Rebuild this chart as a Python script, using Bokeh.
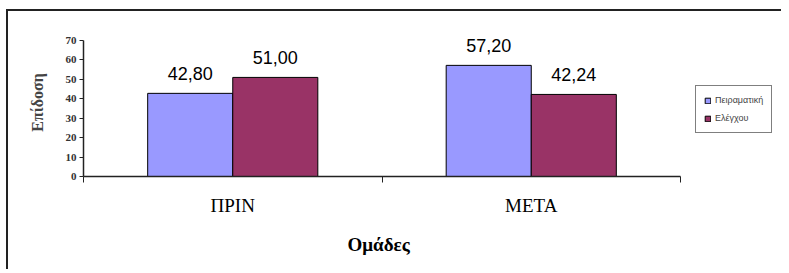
from bokeh.plotting import figure
from bokeh.models import ColumnDataSource, FixedTicker, Range1d, Legend, LegendItem, Title
from bokeh.core.properties import value
from bokeh.embed import file_html
from bokeh.resources import INLINE

categories = ["ΠΡΙΝ", "ΜΕΤΑ"]
series_names = ["Πειραματική", "Ελέγχου"]
experimental = [42.80, 57.20]
control = [51.00, 42.24]
y_ticks = [0, 10, 20, 30, 40, 50, 60, 70]

BLUE = "#9999FF"
MAROON = "#993366"
SERIF = "Liberation Serif"
bar_w = 0.285

# frame extends right of the category axis to host the legend,
# and above the value axis so the value labels are not clipped
AXIS_PX = 597
FRAME_PX = 698
YAXIS_PX = 136
YFRAME_PX = 148
n = len(categories)
y_max = y_ticks[-1]

idx = list(range(n))
src_a = ColumnDataSource(dict(x=[i + 0.5 - bar_w / 2 for i in idx], top=experimental,
                              lab=[f"{v:.2f}".replace(".", ",") for v in experimental]))
src_b = ColumnDataSource(dict(x=[i + 0.5 + bar_w / 2 for i in idx], top=control,
                              lab=[f"{v:.2f}".replace(".", ",") for v in control]))

p = figure(width=775, height=260, output_backend="svg", toolbar_location=None,
           x_range=Range1d(0, n * FRAME_PX / AXIS_PX),
           y_range=Range1d(0, y_max * YFRAME_PX / YAXIS_PX),
           min_border_left=75, min_border_right=2, min_border_top=17, min_border_bottom=95)
p.styles = {"border-left": "2px solid #222", "border-top": "2px solid #222",
            "margin-left": "6px", "margin-top": "9px"}
p.outline_line_color = None
p.grid.visible = False
p.background_fill_color = "white"

ra = p.vbar(x="x", top="top", width=bar_w, source=src_a, fill_color=BLUE, line_color="black", line_width=1)
rb = p.vbar(x="x", top="top", width=bar_w, source=src_b, fill_color=MAROON, line_color="black", line_width=1)

for s in (src_a, src_b):
    p.text(x="x", y="top", text="lab", source=s, text_align="center", text_baseline="bottom",
           y_offset=-13, text_font=value("Liberation Sans"), text_font_size="18px", text_color="black")

# x axis
xa = p.xaxis[0]
xa.bounds = (0, n)
xa.ticker = FixedTicker(ticks=[i + 0.5 for i in idx], minor_ticks=[0] + [i + 1 for i in idx])
xa.major_label_overrides = {i + 0.5: c for i, c in zip(idx, categories)}
xa.major_tick_line_color = None
xa.major_tick_out = 0
xa.minor_tick_out = 6
xa.minor_tick_in = 0
xa.minor_tick_line_color = "#222"
xa.axis_line_color = "#222"
xa.axis_line_width = 1.5
xa.major_label_standoff = 12
xa.major_label_text_font = SERIF
xa.major_label_text_font_style = "normal"
xa.major_label_text_font_size = "19px"
xa.major_label_text_color = "black"

x_title = Title(text="Ομάδες", align="left", offset=264, standoff=26,
                text_font=SERIF, text_font_style="bold", text_font_size="19px",
                text_color="black")
p.add_layout(x_title, "below")

# y axis
ya = p.yaxis[0]
ya.bounds = (0, y_max)
ya.ticker = FixedTicker(ticks=y_ticks)
ya.minor_tick_line_color = None
ya.major_tick_out = 4
ya.major_tick_in = 0
ya.major_tick_line_color = "#222"
ya.axis_line_color = "#222"
ya.axis_line_width = 1.5
ya.major_label_standoff = 3
ya.major_label_text_font = SERIF
ya.major_label_text_font_style = "bold"
ya.major_label_text_font_size = "11px"
ya.major_label_text_color = "#333"
ya.axis_label = "Επίδοση"
ya.axis_label_text_font = SERIF
ya.axis_label_text_font_style = "bold"
ya.axis_label_text_font_size = "16px"
ya.axis_label_standoff = 17

legend = Legend(items=[LegendItem(label=series_names[0], renderers=[ra]),
                       LegendItem(label=series_names[1], renderers=[rb])],
                location=(612, 43), orientation="vertical")
legend.border_line_color = "black"
legend.border_line_width = 1
legend.background_fill_color = "white"
legend.label_text_font = "Liberation Sans"
legend.label_text_font_size = "9px"
legend.glyph_width = 7
legend.glyph_height = 7
legend.label_height = 12
legend.label_standoff = 4
legend.spacing = 6
legend.padding = 8
legend.margin = 0
p.add_layout(legend, "center")

open("out.html", "w").write(file_html(p, INLINE))
